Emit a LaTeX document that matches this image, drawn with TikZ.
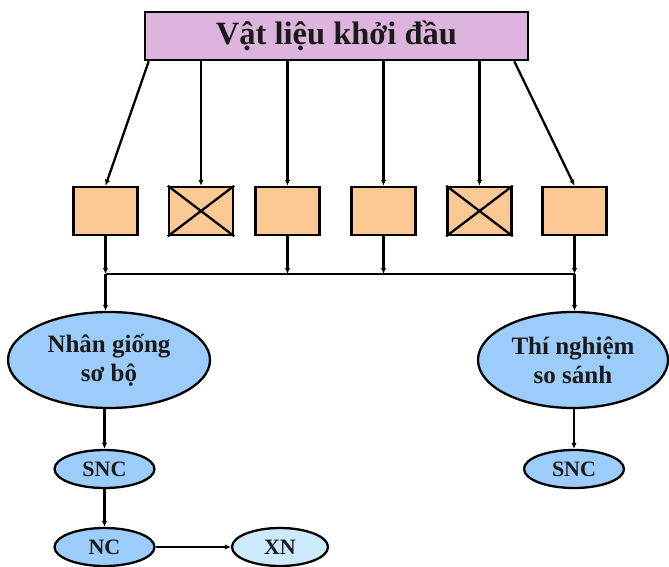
\documentclass[tikz,border=0pt]{standalone}
\usepackage{fontspec}
\setmainfont{Liberation Serif}
\usetikzlibrary{shapes.geometric,arrows.meta}
\definecolor{titlefill}{HTML}{DDB4DD}
\definecolor{boxfill}{HTML}{FCC995}
\definecolor{ellfill}{HTML}{9CCCFA}
\definecolor{xnfill}{HTML}{CDE9FC}
\definecolor{txt}{HTML}{1A1A1A}
\tikzset{
  titlebox/.style={draw=black, fill=titlefill, line width=2.6pt, minimum width=383pt, minimum height=48pt, inner sep=0pt, font=\fontsize{32.5}{36}\selectfont\bfseries, text=txt},
  smallbox/.style={draw=black, fill=boxfill, line width=2.5pt, minimum width=64pt, minimum height=48pt, inner sep=0pt},
  bigell/.style={ellipse, draw=black, fill=ellfill, line width=2.3pt, inner sep=0pt, align=center, font=\fontsize{25}{29}\selectfont\bfseries, text=txt},
  smallell/.style={ellipse, draw=black, fill=ellfill, line width=2.3pt, minimum width=100pt, minimum height=38pt, inner sep=0pt, font=\fontsize{22}{26}\selectfont\bfseries, text=txt},
  conn/.style={line width=2.3pt, -{Latex[length=6pt,width=5.5pt]}},
  busline/.style={line width=2.5pt}
}
\begin{document}
\begin{tikzpicture}[x=1pt,y=-1pt]
\useasboundingbox (0,0) rectangle (669,567);
\node[titlebox] (top) at (336.5,36) {Vật liệu khởi đầu};
\node[smallbox] (b1) at (105.5,211) {};
\node[smallbox] (b2) at (201,211) {};
\node[smallbox] (b3) at (287.5,211) {};
\node[smallbox] (b4) at (383.5,211) {};
\node[smallbox] (b5) at (479.5,211) {};
\node[smallbox] (b6) at (574.5,211) {};
\draw[line width=2.3pt] (b2.north west) -- (b2.south east) (b2.south west) -- (b2.north east);
\draw[line width=2.3pt] (b5.north west) -- (b5.south east) (b5.south west) -- (b5.north east);
% arrows from title
\draw[conn] ([xshift=5pt]top.south west) -- (b1.north);
\draw[conn] (top.south -| b2.north) -- (b2.north);
\draw[conn] (top.south -| b3.north) -- (b3.north);
\draw[conn] (top.south -| b4.north) -- (b4.north);
\draw[conn] (top.south -| b5.north) -- (b5.north);
\draw[conn] ([xshift=-15pt]top.south east) -- (b6.north);
% bus
\coordinate (busL) at (105.5,274);
\coordinate (busR) at (574.5,274);
\draw[busline] (busL) -- (busR);
\draw[conn] (b1.south) -- (busL);
\draw[conn] (b3.south) -- (b3.south |- busL);
\draw[conn] (b4.south) -- (b4.south |- busL);
\draw[conn] (b6.south) -- (busR);
% ellipses
\node[bigell, minimum width=202pt, minimum height=96pt] (e1) at (109,360) {Nhân giống\\sơ bộ};
\node[bigell, minimum width=190pt, minimum height=96pt] (e2) at (573,360) {Thí nghiệm\\so sánh};
\draw[conn] (busL) -- (busL |- e1.north);
\draw[conn] (busR) -- (busR |- e2.north);
\node[smallell] (snc1) at (104.5,469) {SNC};
\node[smallell] (snc2) at (574,469) {SNC};
\node[smallell] (nc) at (104.5,547) {NC};
\node[smallell, fill=xnfill, minimum width=96pt] (xn) at (280,547) {XN};
\draw[conn] (snc1 |- e1.south) -- (snc1.north);
\draw[conn] (snc2 |- e2.south) -- (snc2.north);
\draw[conn] (snc1.south) -- (nc.north);
\draw[conn] (nc.east) -- (xn.west);
\end{tikzpicture}
\end{document}
